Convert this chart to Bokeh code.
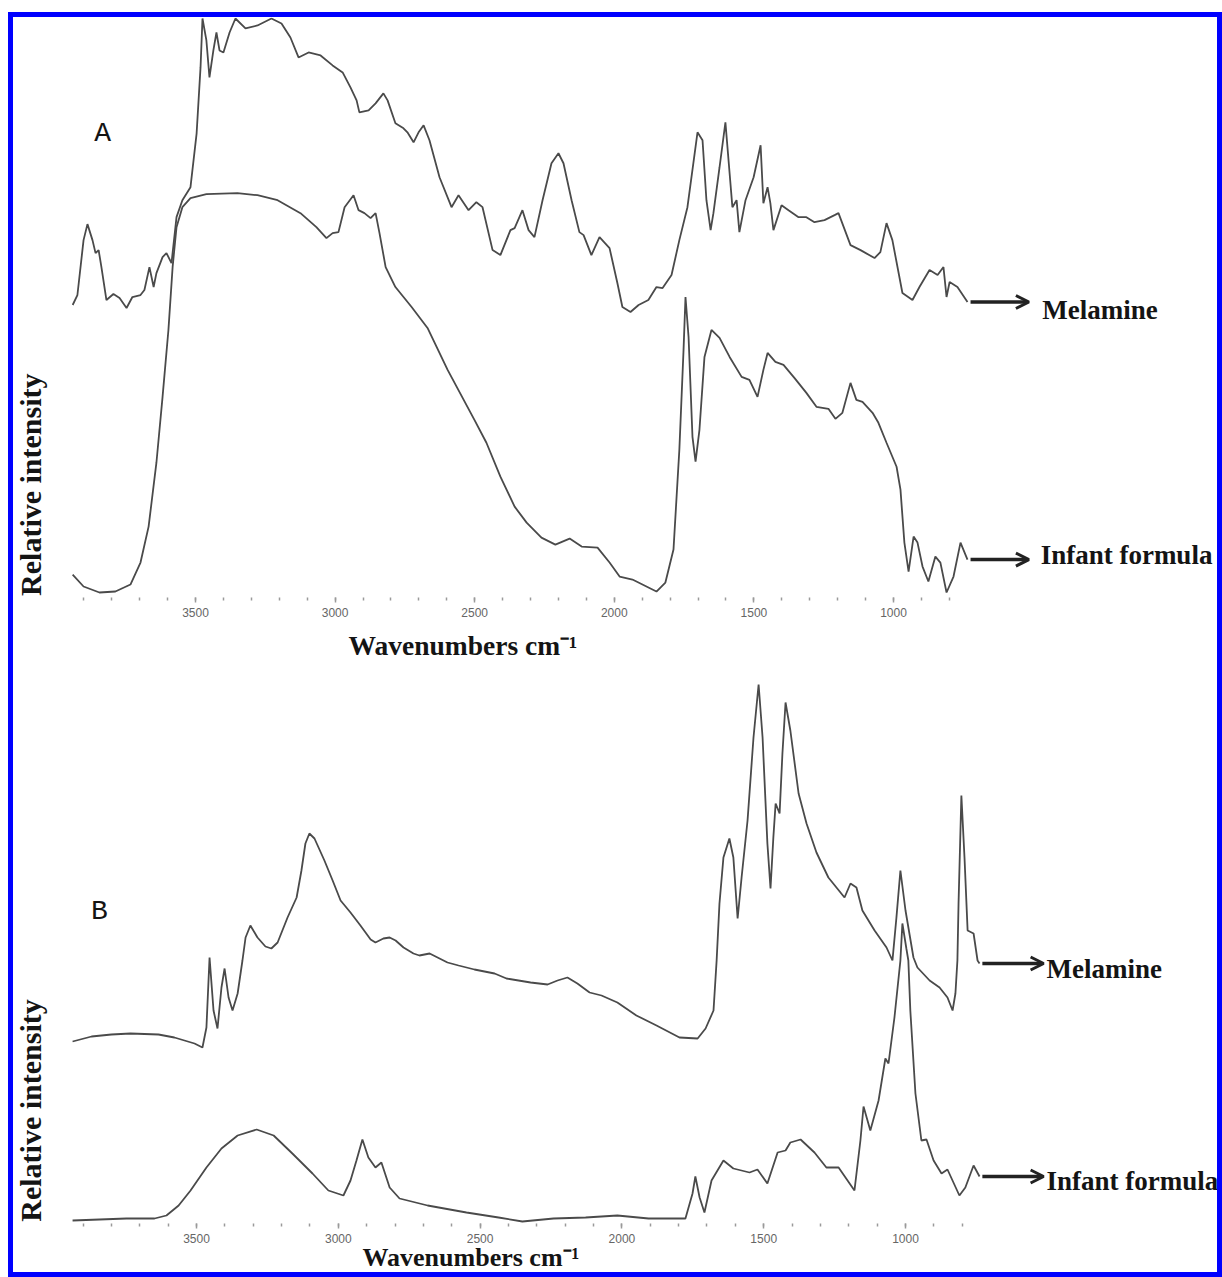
import math
from bokeh.plotting import figure
from bokeh.models import Range1d, FixedTicker, Label, Arrow, OpenHead, Title
from bokeh.layouts import column
from bokeh.embed import file_html
from bokeh.resources import INLINE

# ---------------- data (wavenumber cm-1, relative intensity a.u.) ----------------
major_ticks = [3500, 3000, 2500, 2000, 1500, 1000]
minor_ticks = list(range(3900, 700, -100))

melamine_A = [(3940,293),(3923,303),(3901,358),(3887,374),(3869,358),(3858,345),(3847,348),(3837,331),
    (3819,298),(3794,304),(3772,300),(3747,290),(3726,301),(3697,303),(3683,308),(3665,331),(3650,311),
    (3640,325),(3618,341),(3604,345),(3586,335),(3568,381),(3547,398),(3518,411),(3496,465),(3482,531),
    (3475,580),(3461,558),(3450,521),(3436,548),(3425,566),(3414,548),(3400,546),(3378,566),(3357,580),
    (3321,570),(3278,573),(3228,580),(3192,575),(3160,561),(3131,541),(3095,546),(3052,543),(3009,533),
    (2973,526),(2945,511),(2923,498),(2913,486),(2880,488),(2855,495),(2827,505),(2812,498),(2784,475),
    (2755,470),(2741,466),(2719,456),(2701,466),(2683,473),(2662,458),(2626,421),(2583,391),(2558,403),
    (2522,388),(2494,396),(2472,391),(2436,348),(2408,343),(2372,368),(2357,370),(2329,388),(2307,368),
    (2286,361),(2257,398),(2225,435),(2200,445),(2182,435),(2153,398),(2125,366),(2110,363),(2082,343),
    (2053,361),(2017,350),(1989,315),(1971,291),(1942,286),(1913,293),(1878,298),(1849,311),(1827,310),
    (1795,323),(1767,358),(1738,391),(1702,466),(1684,458),(1670,398),(1655,368),(1645,385),(1623,431),
    (1602,476),(1587,425),(1577,391),(1562,398),(1552,366),(1530,398),(1501,421),(1476,453),(1466,395),
    (1451,411),(1441,395),(1430,368),(1401,393),(1376,388),(1340,381),(1312,381),(1283,376),(1247,378),
    (1211,383),(1197,385),(1154,353),(1118,348),(1068,340),(1047,346),(1025,375),(1004,358),(968,305),
    (932,298),(907,311),(871,328),(842,323),(821,331),(810,301),(799,316),(771,311),(735,296)]

infant_A = [(3940,23),(3901,11),(3844,5),(3787,6),(3733,13),(3697,35),(3668,71),(3640,135),(3618,201),
    (3597,268),(3582,331),(3568,371),(3547,391),(3518,400),(3461,404),(3350,405),(3278,403),(3206,398),
    (3124,385),(3067,371),(3031,360),(3009,365),(2988,366),(2966,391),(2934,403),(2916,388),(2895,385),
    (2873,380),(2855,385),(2841,365),(2819,331),(2784,311),(2726,291),(2669,270),(2597,228),(2501,178),
    (2458,155),(2408,121),(2357,91),(2314,75),(2261,60),(2211,53),(2160,59),(2117,51),(2060,50),(2017,35),
    (1981,21),(1935,18),(1849,6),(1817,15),(1788,48),(1767,148),(1752,248),(1745,301),(1734,261),
    (1720,161),(1709,136),(1695,168),(1677,241),(1652,268),(1623,260),(1587,241),(1544,221),(1516,218),
    (1487,201),(1466,228),(1451,245),(1423,236),(1394,233),(1355,220),(1312,205),(1276,191),(1233,189),
    (1208,179),(1183,185),(1154,215),(1133,198),(1111,196),(1075,185),(1054,175),(1025,155),(989,131),
    (975,108),(961,55),(946,26),(928,61),(914,55),(896,31),(875,16),(850,41),(832,35),(810,5),(785,21),
    (760,55),(735,38)]

melamine_B = [(3937,182),(3870,187),(3800,189),(3733,190),(3634,189),(3578,186),(3507,180),(3479,176),
    (3465,196),(3454,266),(3440,213),(3426,195),(3412,236),(3401,255),(3387,226),(3373,213),(3355,230),
    (3338,263),(3327,286),(3310,298),(3285,286),(3257,277),(3236,275),(3214,281),(3179,306),(3147,326),
    (3130,353),(3116,380),(3102,390),(3084,385),(3049,363),(3020,343),(2992,323),(2957,311),(2922,298),
    (2886,284),(2869,281),(2841,285),(2819,286),(2798,283),(2770,276),(2735,270),(2714,268),(2678,270),
    (2650,266),(2615,261),(2576,258),(2520,254),(2449,250),(2407,245),(2322,241),(2262,239),(2227,243),
    (2192,246),(2157,240),(2114,231),(2072,228),(2016,221),(1949,208),(1878,198),(1797,186),(1733,185),
    (1705,195),(1677,213),(1666,263),(1656,320),(1642,366),(1621,385),(1607,366),(1592,305),(1578,346),
    (1557,403),(1536,486),(1518,539),(1504,486),(1487,380),(1476,335),(1466,386),(1458,420),(1444,410),
    (1434,470),(1423,521),(1406,493),(1377,430),(1349,400),(1314,371),(1272,346),(1215,326),(1194,340),
    (1173,336),(1152,313),(1109,293),(1067,276),(1046,263),(1032,306),(1018,353),(1000,313),(972,266),
    (958,256),(915,243),(880,236),(852,226),(834,213),(824,230),(817,263),(813,320),(803,428),(792,366),
    (781,293),(760,290),(746,263),(739,260)]

infant_B = [(3937,3),(3842,4),(3747,5),(3648,5),(3606,8),(3563,18),(3521,33),(3465,56),(3412,75),
    (3355,88),(3288,94),(3228,88),(3162,70),(3091,50),(3035,33),(2982,28),(2957,43),(2936,63),(2915,84),
    (2894,66),(2869,56),(2848,61),(2819,36),(2784,25),(2685,18),(2548,11),(2435,6),(2351,2),(2241,5),
    (2128,6),(2016,8),(1906,5),(1776,5),(1751,30),(1741,47),(1726,26),(1709,11),(1684,43),(1642,63),
    (1607,55),(1550,51),(1522,54),(1487,40),(1451,71),(1423,73),(1406,81),(1370,84),(1321,71),(1279,56),
    (1236,56),(1180,33),(1159,83),(1148,117),(1124,93),(1095,123),(1071,165),(1060,160),(1039,206),
    (1018,263),(1011,300),(997,275),(990,263),(983,213),(965,130),(944,83),(926,84),(901,63),(873,50),
    (852,54),(831,41),(810,28),(789,36),(760,58),(739,47)]

LINE = "#4a4a4a"
TXT = "#141414"
SERIF = "Liberation Serif"
XLABEL = "Wavenumbers cm\u207b\u00b9"
YLABEL = "Relative intensity"


def panel(x0, x1, ytop, height, bottom, series, letter, letter_pos, ylab_pos,
          xlab_offset, xlab_size, xlab_standoff,
          mel_arrow, mel_text, inf_arrow, inf_text):
    p = figure(width=1204, height=height, output_backend="svg", toolbar_location=None,
               x_range=Range1d(x0, x1), y_range=Range1d(0, ytop),
               y_axis_location=None, min_border_left=0, min_border_right=0,
               min_border_top=0, min_border_bottom=bottom)
    p.outline_line_color = None
    p.xgrid.visible = False
    p.ygrid.visible = False
    ax = p.xaxis[0]
    ax.ticker = FixedTicker(ticks=major_ticks, minor_ticks=minor_ticks)
    ax.axis_line_color = None
    ax.major_tick_in = 0
    ax.major_tick_out = 5
    ax.minor_tick_in = 0
    ax.minor_tick_out = 3
    ax.major_tick_line_color = "#9a9a9a"
    ax.minor_tick_line_color = "#9a9a9a"
    ax.major_tick_line_width = 1.5
    ax.minor_tick_line_width = 1.5
    ax.major_label_standoff = 5
    ax.major_label_text_font = "Liberation Sans"
    ax.major_label_text_font_size = "12px"
    ax.major_label_text_color = "#666666"

    for data in series:
        wn = [d[0] for d in data]
        iv = [d[1] for d in data]
        p.line(wn, iv, line_color=LINE, line_width=1.8)

    # x label as a below title, placed left-aligned with an offset
    xt = Title(text=XLABEL, align="left", offset=xlab_offset, standoff=0,
               text_font=SERIF, text_font_style="bold", text_font_size=xlab_size,
               text_color=TXT)
    try:
        xt.standoff = xlab_standoff
    except Exception:
        xt.standoff = 0
    p.add_layout(xt, "below")

    # y label (vertical) inside the plotting area
    p.add_layout(Label(x=ylab_pos[0], y=ylab_pos[1], text=YLABEL, angle=math.pi / 2,
                       text_font=SERIF, text_font_style="bold", text_font_size="30px",
                       text_color=TXT, text_align="center", text_baseline="middle"))

    p.add_layout(Label(x=letter_pos[0], y=letter_pos[1], text=letter, text_font="Liberation Mono",
                       text_font_size="28px", text_color=TXT, text_align="center",
                       text_baseline="middle"))
    for (xs, xe, yy) in (mel_arrow, inf_arrow):
        p.add_layout(Arrow(x_start=xs, y_start=yy, x_end=xe, y_end=yy, line_width=3.5,
                           line_color="#222222",
                           end=OpenHead(size=13, line_width=3, line_color="#222222")))
    for (txt, pos) in (("Melamine", mel_text), ("Infant formula", inf_text)):
        p.add_layout(Label(x=pos[0], y=pos[1], text=txt, text_font=SERIF,
                           text_font_style="bold", text_font_size="27px", text_color=TXT,
                           text_align="left", text_baseline="alphabetic"))
    return p


pA = panel(4151.9, -160.5, 581, 651, 70, [melamine_A, infant_A], "A", (3833, 465),
           (4092.8, 113), 335, "27.5px", 16,
           (724, 515, 296), (467, 288), (724, 515, 38), (473, 43))
pB = panel(4145.3, -100.1, 555, 604, 49, [melamine_B, infant_B], "B", (3842, 312),
           (4087.1, 113), 349, "26px", -9,
           (729, 513, 260), (503, 255), (729, 513, 47), (503, 43))

layout = column(pA, pB, spacing=0, margin=(12, 0, 0, 8),
                styles={"border": "5px solid #0000ff"})

open("out.html", "w").write(file_html(layout, INLINE))
